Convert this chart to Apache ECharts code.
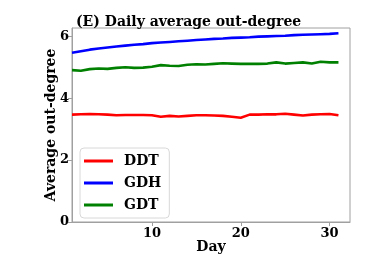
<!DOCTYPE html>
<html><head><meta charset="utf-8">
<script src="https://cdn.jsdelivr.net/npm/echarts@6/dist/echarts.min.js"></script>
<style>html,body{margin:0;padding:0;background:#fff}#c{width:390px;height:262px}</style>
</head><body><div id="c"></div>
<script>
const days = Array.from({length: 31}, (_, i) => i + 1);
const ddt = [3.47, 3.48, 3.49, 3.48, 3.47, 3.45, 3.46, 3.46, 3.46, 3.45, 3.40, 3.43, 3.41, 3.43, 3.45, 3.45, 3.44, 3.43, 3.40, 3.37, 3.47, 3.47, 3.48, 3.48, 3.50, 3.47, 3.44, 3.47, 3.48, 3.49, 3.45];
const gdh = [5.47, 5.52, 5.57, 5.61, 5.64, 5.67, 5.70, 5.73, 5.75, 5.78, 5.80, 5.82, 5.84, 5.86, 5.88, 5.90, 5.92, 5.93, 5.95, 5.96, 5.97, 5.99, 6.00, 6.01, 6.02, 6.04, 6.05, 6.06, 6.07, 6.08, 6.10];
const gdt = [4.91, 4.89, 4.94, 4.96, 4.95, 4.98, 5.00, 4.98, 4.99, 5.02, 5.07, 5.05, 5.04, 5.08, 5.10, 5.09, 5.11, 5.13, 5.12, 5.11, 5.11, 5.11, 5.12, 5.16, 5.12, 5.14, 5.16, 5.12, 5.18, 5.16, 5.16];
const xTicks = [10, 20, 30];
const yTicks = [0, 2, 4, 6];
const F = 'DejaVu Serif';
const chart = echarts.init(document.getElementById('c'));
const mk = (name, data, color) => ({
  name, type: 'line', data: days.map((d, i) => [d, data[i]]),
  showSymbol: false, lineStyle: {color, width: 2.6}, itemStyle: {color}, animation: false
});
chart.setOption({
  animation: false,
  title: {text: '(E) Daily average out-degree', left: 71, top: 10,
    textStyle: {fontFamily: F, fontWeight: 'bold', fontSize: 14, color: '#000'}},
  grid: {left: 72, right: 40, top: 28, bottom: 40, show: true, borderColor: '#a0a0a0', borderWidth: 1, backgroundColor: 'transparent'},
  xAxis: {type: 'value', min: 1, max: 32.3, name: 'Day', nameLocation: 'middle', nameGap: 18, nameMoveOverlap: false,
    nameTextStyle: {fontFamily: F, fontWeight: 'bold', fontSize: 14, color: '#000'},
    axisLine: {lineStyle: {color: '#a0a0a0', width: 1}},
    axisTick: {show: true, length: 4, customValues: xTicks, lineStyle: {color: '#a0a0a0'}},
    axisLabel: {customValues: xTicks, fontFamily: F, fontWeight: 'bold', fontSize: 13, color: '#000', margin: 5},
    splitLine: {show: false}},
  yAxis: {type: 'value', min: 0, max: 6.27, name: 'Average out-degree', nameLocation: 'middle', nameGap: 14, nameMoveOverlap: false,
    nameTextStyle: {fontFamily: F, fontWeight: 'bold', fontSize: 14, color: '#000'},
    axisLine: {show: true, lineStyle: {color: '#a0a0a0', width: 1}},
    axisTick: {show: true, length: 4, customValues: yTicks, lineStyle: {color: '#a0a0a0'}},
    axisLabel: {customValues: yTicks, fontFamily: F, fontWeight: 'bold', fontSize: 13, color: '#000', margin: 3},
    splitLine: {show: false}},
  legend: {orient: 'vertical', left: 80, top: 148, itemWidth: 29, itemHeight: 3, itemGap: 8,
    icon: 'rect', padding: [6, 8, 6, 4], backgroundColor: '#fff', borderColor: '#d8d8d8', borderWidth: 1, borderRadius: 4,
    textStyle: {fontFamily: F, fontWeight: 'bold', fontSize: 14, color: '#000', padding: [0, 0, 0, 6]},
    data: ['DDT', 'GDH', 'GDT']},
  series: [mk('DDT', ddt, '#ff0000'), mk('GDH', gdh, '#0000ff'), mk('GDT', gdt, '#008000')]
});
</script></body></html>
